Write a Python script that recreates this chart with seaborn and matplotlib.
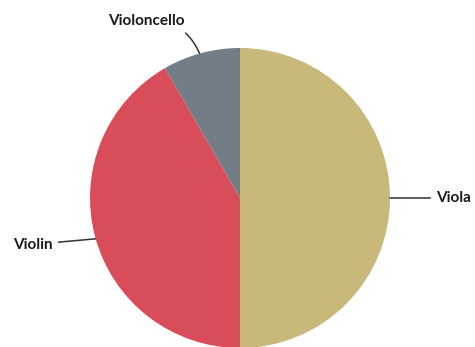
import matplotlib
matplotlib.use("Agg")
import matplotlib.pyplot as plt
import seaborn as sns

# Section counts
instruments = ["Viola", "Violin", "Violoncello"]
counts = [6, 5, 1]
colors = ["#C8B87A", "#D94C5A", "#737D86"]

sns.set_theme(style="white")
plt.rcParams["font.family"] = ["Lato", "DejaVu Sans"]

W, H = 475, 347
fig = plt.figure(figsize=(W / 100, H / 100), dpi=100)
cx, cy, r = 240, 198, 150
ax = fig.add_axes([(cx - r) / W, (H - cy - r) / H, 2 * r / W, 2 * r / H])

wedges, _ = ax.pie(counts, colors=colors, startangle=90, counterclock=False,
                   wedgeprops=dict(linewidth=0))
ax.set_xlim(-1, 1)
ax.set_ylim(-1, 1)
ax.set_aspect("equal")
ax.axis("off")

line = dict(arrowstyle="-", color="#333333", lw=1.1, shrinkA=2, shrinkB=0)
txt = dict(fontsize=11, fontweight="bold", color="#1a1a1a", va="center",
           annotation_clip=False)

ax.annotate(instruments[0], xy=(1.0, 0.0), xytext=(1.31, 0.0), ha="left",
            arrowprops=line, **txt)
ax.annotate(instruments[1], xy=(-0.962, -0.272), xytext=(-1.25, -0.31), ha="right",
            arrowprops=line, **txt)
ax.annotate(instruments[2], xy=(-0.27, 0.965), xytext=(-0.37, 1.18), ha="right",
            arrowprops=dict(line, connectionstyle="arc3,rad=-0.35"), **txt)

fig.savefig("out.png", dpi=100)
